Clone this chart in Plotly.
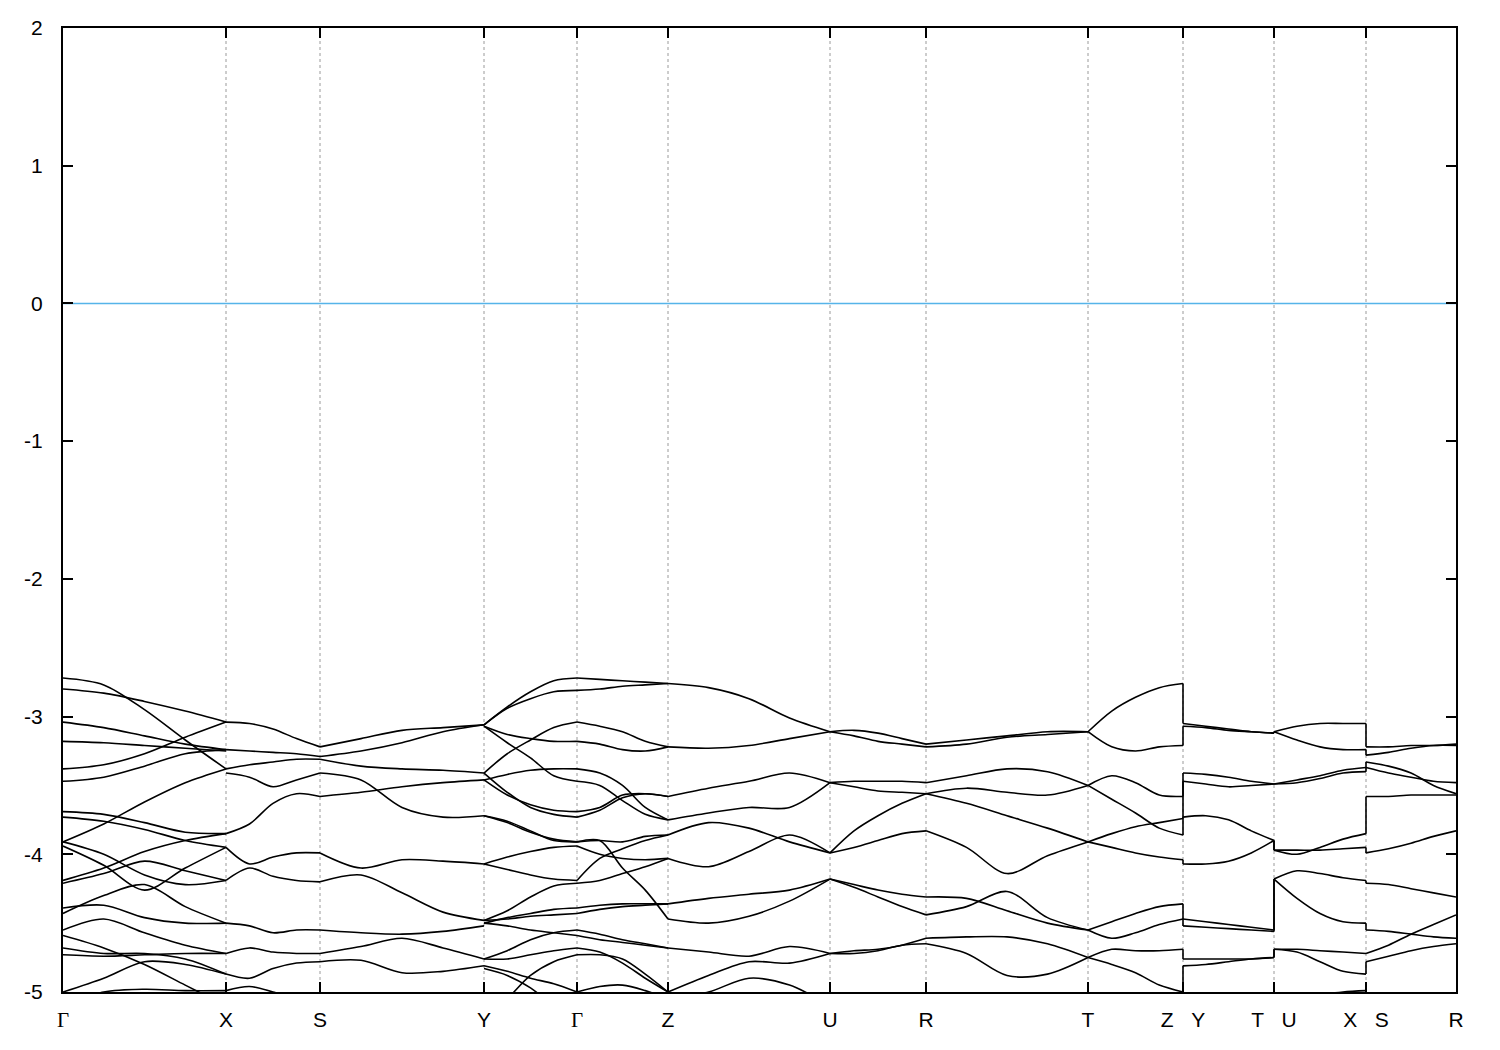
import numpy as np
import plotly.graph_objects as go

# ---------------- high-symmetry path (k positions, arbitrary units) ----------------
node_k = [0, 163, 257, 421, 514, 605, 767, 863, 1025, 1120, 1211, 1303, 1393]
node_labels = ["Γ", "X", "S", "Y", "Γ", "Z", "U", "R", "T", "Z   Y", "T   U", "X   S", "R"]

# ---------------- band energies (eV), 5 samples per segment ----------------
GX = [
    [-2.72, -2.77, -2.95, -3.17, -3.38],
    [-2.80, -2.83, -2.89, -2.96, -3.04],
    [-3.04, -3.08, -3.14, -3.20, -3.24],
    [-3.18, -3.19, -3.21, -3.23, -3.25],
    [-3.38, -3.35, -3.27, -3.15, -3.04],
    [-3.47, -3.44, -3.36, -3.27, -3.24],
    [-3.91, -3.78, -3.62, -3.48, -3.38],
    [-3.69, -3.71, -3.77, -3.84, -3.85],
    [-3.73, -3.76, -3.82, -3.90, -3.95],
    [-3.91, -4.00, -4.15, -4.22, -4.19],
    [-3.94, -4.08, -4.26, -4.10, -3.95],
    [-4.19, -4.10, -3.98, -3.90, -3.85],
    [-4.21, -4.14, -4.05, -4.12, -4.19],
    [-4.39, -4.37, -4.46, -4.50, -4.50],
    [-4.43, -4.30, -4.22, -4.38, -4.50],
    [-4.55, -4.47, -4.57, -4.66, -4.72],
    [-4.59, -4.68, -4.80, -4.95, -5.10],
    [-4.68, -4.72, -4.72, -4.76, -4.87],
    [-4.73, -4.74, -4.73, -4.72, -4.72],
    [-5.00, -4.90, -4.78, -4.80, -4.87],
    [-5.10, -5.00, -4.98, -4.99, -4.99],
]
XS = [
    [-3.04, -3.05, -3.09, -3.16, -3.22],
    [-3.24, -3.25, -3.26, -3.27, -3.29],
    [-3.38, -3.35, -3.33, -3.31, -3.31],
    [-3.41, -3.44, -3.51, -3.46, -3.41],
    [-3.85, -3.78, -3.63, -3.56, -3.58],
    [-3.95, -4.07, -4.02, -3.99, -3.99],
    [-4.19, -4.10, -4.16, -4.19, -4.20],
    [-4.50, -4.52, -4.57, -4.55, -4.55],
    [-4.72, -4.68, -4.71, -4.72, -4.72],
    [-4.87, -4.90, -4.83, -4.79, -4.78],
    [-4.99, -4.96, -5.00, -5.05, -5.10],
]
SY = [
    [-3.22, -3.16, -3.10, -3.08, -3.06],
    [-3.29, -3.25, -3.19, -3.11, -3.06],
    [-3.31, -3.36, -3.38, -3.39, -3.41],
    [-3.41, -3.46, -3.66, -3.73, -3.72],
    [-3.58, -3.55, -3.51, -3.48, -3.46],
    [-3.99, -4.10, -4.04, -4.05, -4.07],
    [-4.20, -4.15, -4.28, -4.42, -4.48],
    [-4.55, -4.57, -4.58, -4.56, -4.52],
    [-4.72, -4.67, -4.61, -4.68, -4.76],
    [-4.78, -4.77, -4.86, -4.85, -4.81],
]
YG = [
    [-3.06, -2.93, -2.82, -2.74, -2.72],
    [-3.06, -2.94, -2.87, -2.82, -2.81],
    [-3.07, -3.13, -3.16, -3.18, -3.18],
    [-3.07, -3.19, -3.30, -3.43, -3.47],
    [-3.41, -3.27, -3.17, -3.08, -3.04],
    [-3.46, -3.42, -3.39, -3.38, -3.38],
    [-3.46, -3.57, -3.64, -3.68, -3.69],
    [-3.41, -3.55, -3.66, -3.71, -3.73],
    [-3.72, -3.76, -3.83, -3.90, -3.91],
    [-3.72, -3.77, -3.84, -3.89, -3.91],
    [-4.07, -4.11, -4.15, -4.18, -4.19],
    [-4.07, -4.02, -3.98, -3.95, -3.94],
    [-4.48, -4.41, -4.31, -4.23, -4.21],
    [-4.50, -4.46, -4.43, -4.40, -4.39],
    [-4.50, -4.52, -4.55, -4.57, -4.59],
    [-4.48, -4.47, -4.45, -4.44, -4.43],
    [-4.76, -4.70, -4.62, -4.57, -4.55],
    [-4.76, -4.76, -4.73, -4.70, -4.68],
    [-4.81, -4.85, -4.90, -4.94, -5.00],
    [-4.83, -4.88, -4.97, -5.10, -5.20],
    [-5.20, -5.05, -4.88, -4.78, -4.73],
]
GZ = [
    [-2.72, -2.73, -2.74, -2.75, -2.76],
    [-2.81, -2.80, -2.78, -2.77, -2.76],
    [-3.04, -3.07, -3.11, -3.18, -3.22],
    [-3.18, -3.20, -3.24, -3.25, -3.22],
    [-3.38, -3.41, -3.50, -3.66, -3.75],
    [-3.47, -3.50, -3.61, -3.71, -3.75],
    [-3.73, -3.68, -3.59, -3.56, -3.58],
    [-3.69, -3.66, -3.57, -3.56, -3.58],
    [-3.91, -3.90, -3.91, -3.87, -3.86],
    [-3.91, -3.90, -4.10, -4.26, -4.47],
    [-4.19, -4.03, -3.96, -3.90, -3.86],
    [-4.21, -4.19, -4.14, -4.09, -4.03],
    [-3.94, -4.00, -4.03, -4.04, -4.03],
    [-4.39, -4.37, -4.36, -4.36, -4.36],
    [-4.43, -4.40, -4.38, -4.37, -4.36],
    [-4.55, -4.58, -4.62, -4.65, -4.68],
    [-4.59, -4.62, -4.64, -4.66, -4.68],
    [-4.68, -4.71, -4.79, -4.90, -5.00],
    [-4.73, -4.73, -4.76, -4.87, -5.00],
    [-5.00, -4.96, -4.95, -4.99, -5.05],
]
ZU = [
    [-2.76, -2.79, -2.87, -3.01, -3.11],
    [-3.22, -3.23, -3.21, -3.16, -3.11],
    [-3.58, -3.52, -3.47, -3.41, -3.48],
    [-3.75, -3.70, -3.66, -3.66, -3.48],
    [-3.86, -3.77, -3.81, -3.91, -3.99],
    [-4.03, -4.09, -3.98, -3.86, -3.99],
    [-4.36, -4.32, -4.29, -4.26, -4.18],
    [-4.47, -4.50, -4.45, -4.34, -4.18],
    [-4.68, -4.71, -4.74, -4.67, -4.72],
    [-5.00, -4.88, -4.78, -4.79, -4.72],
    [-5.05, -5.00, -4.90, -4.95, -5.10],
]
UR = [
    [-3.11, -3.10, -3.12, -3.16, -3.20],
    [-3.11, -3.14, -3.18, -3.20, -3.22],
    [-3.48, -3.47, -3.47, -3.47, -3.48],
    [-3.48, -3.51, -3.54, -3.55, -3.56],
    [-3.99, -3.83, -3.72, -3.63, -3.56],
    [-3.99, -3.95, -3.90, -3.85, -3.83],
    [-4.18, -4.24, -4.31, -4.38, -4.44],
    [-4.18, -4.22, -4.26, -4.29, -4.31],
    [-4.72, -4.70, -4.69, -4.66, -4.61],
    [-4.72, -4.72, -4.70, -4.66, -4.65],
]
RT = [
    [-3.20, -3.17, -3.14, -3.11, -3.11],
    [-3.22, -3.20, -3.15, -3.13, -3.11],
    [-3.48, -3.43, -3.38, -3.40, -3.50],
    [-3.56, -3.52, -3.55, -3.57, -3.50],
    [-3.56, -3.63, -3.72, -3.81, -3.91],
    [-3.83, -3.95, -4.14, -4.01, -3.91],
    [-4.31, -4.32, -4.41, -4.50, -4.55],
    [-4.44, -4.38, -4.27, -4.46, -4.55],
    [-4.61, -4.60, -4.60, -4.65, -4.75],
    [-4.65, -4.72, -4.88, -4.87, -4.75],
]
TZ = [
    [-3.11, -2.96, -2.86, -2.79, -2.76],
    [-3.11, -3.22, -3.25, -3.22, -3.21],
    [-3.50, -3.43, -3.48, -3.57, -3.58],
    [-3.50, -3.60, -3.70, -3.81, -3.86],
    [-3.91, -3.85, -3.80, -3.77, -3.74],
    [-3.91, -3.95, -3.99, -4.02, -4.04],
    [-4.55, -4.49, -4.43, -4.38, -4.36],
    [-4.55, -4.61, -4.57, -4.51, -4.47],
    [-4.75, -4.69, -4.70, -4.70, -4.69],
    [-4.75, -4.80, -4.86, -4.95, -5.00],
    [-5.30, -5.30, -5.30, -5.30, -5.30],
]
YT = [
    [-3.05, -3.07, -3.09, -3.11, -3.12],
    [-3.07, -3.08, -3.10, -3.11, -3.12],
    [-3.41, -3.42, -3.44, -3.47, -3.49],
    [-3.47, -3.49, -3.51, -3.50, -3.49],
    [-3.73, -3.72, -3.75, -3.83, -3.90],
    [-4.07, -4.07, -4.05, -3.99, -3.90],
    [-4.47, -4.49, -4.51, -4.53, -4.55],
    [-4.52, -4.53, -4.54, -4.55, -4.56],
    [-4.76, -4.76, -4.76, -4.76, -4.75],
    [-4.81, -4.80, -4.78, -4.76, -4.75],
    [-5.20, -5.20, -5.20, -5.20, -5.20],
]
UX = [
    [-3.11, -3.07, -3.05, -3.05, -3.05],
    [-3.11, -3.17, -3.22, -3.24, -3.24],
    [-3.49, -3.46, -3.43, -3.39, -3.37],
    [-3.49, -3.48, -3.45, -3.41, -3.40],
    [-3.97, -3.97, -3.97, -3.96, -3.95],
    [-3.97, -4.00, -3.95, -3.89, -3.85],
    [-4.18, -4.12, -4.14, -4.17, -4.19],
    [-4.18, -4.32, -4.43, -4.49, -4.50],
    [-4.69, -4.69, -4.70, -4.71, -4.72],
    [-4.69, -4.71, -4.78, -4.85, -4.87],
    [-5.10, -5.05, -5.02, -5.00, -4.99],
]
SR = [
    [-3.22, -3.22, -3.21, -3.21, -3.20],
    [-3.28, -3.26, -3.23, -3.21, -3.21],
    [-3.33, -3.36, -3.41, -3.50, -3.56],
    [-3.37, -3.41, -3.44, -3.47, -3.48],
    [-3.58, -3.58, -3.57, -3.57, -3.57],
    [-3.99, -3.96, -3.92, -3.87, -3.83],
    [-4.21, -4.22, -4.25, -4.28, -4.31],
    [-4.55, -4.56, -4.58, -4.60, -4.61],
    [-4.72, -4.66, -4.58, -4.51, -4.44],
    [-4.78, -4.74, -4.70, -4.67, -4.65],
    [-5.05, -5.05, -5.05, -5.05, -5.05],
]

# segment -> (start node, end node, bands)
segments = [
    (0, 1, GX), (1, 2, XS), (2, 3, SY), (3, 4, YG), (4, 5, GZ), (5, 6, ZU),
    (6, 7, UR), (7, 8, RT), (8, 9, TZ), (9, 10, YT), (10, 11, UX), (11, 12, SR),
]
jump_nodes = [9, 10, 11]  # path discontinuities (Z|Y, T|U, X|S)

fermi_level = 0.0
y_ticks = [-5, -4, -3, -2, -1, 0, 1, 2]

fig = go.Figure()

# vertical dashed lines at high-symmetry points
for k in node_k[1:-1]:
    fig.add_shape(type="line", x0=k, x1=k, y0=-5, y1=2, xref="x", yref="y",
                  line=dict(color="#9a9a9a", width=1, dash="3px,3px"), layer="below")

# Fermi level
fig.add_trace(go.Scatter(x=[node_k[0], node_k[-1]], y=[fermi_level, fermi_level],
                         mode="lines", line=dict(color="#56B4E9", width=1.5),
                         hoverinfo="skip", showlegend=False))

# bands
for (i0, i1, bands) in segments:
    ks = np.linspace(node_k[i0], node_k[i1], len(bands[0]))
    xs, ys = [], []
    for b in bands:
        xs += list(ks) + [None]
        ys += list(b) + [None]
    fig.add_trace(go.Scatter(x=xs, y=ys, mode="lines",
                             line=dict(color="black", width=1.6, shape="spline", smoothing=0.9),
                             connectgaps=False, hoverinfo="skip", showlegend=False))

# vertical connectors at discontinuities (bands paired by energy order)
seg_end = {i1: b for (i0, i1, b) in segments}
seg_start = {i0: b for (i0, i1, b) in segments}
for n in jump_nodes:
    before = sorted([b[-1] for b in seg_end[n]], reverse=True)
    after = sorted([b[0] for b in seg_start[n]], reverse=True)
    xs, ys = [], []
    for a, c in zip(before, after):
        xs += [node_k[n], node_k[n], None]
        ys += [a, c, None]
    fig.add_trace(go.Scatter(x=xs, y=ys, mode="lines", line=dict(color="black", width=1.6),
                             hoverinfo="skip", showlegend=False))

tick_text = []
for lab in node_labels:
    if lab == "Γ":
        tick_text.append('<span style="font-family:\'Liberation Serif\', serif">Γ</span>')
    else:
        tick_text.append(lab.replace(" ", "\u00a0"))

fig.update_layout(
    width=1500, height=1050,
    margin=dict(l=55, r=52, t=20, b=66, autoexpand=False),
    paper_bgcolor="white", plot_bgcolor="white",
    font=dict(family="Liberation Sans, Arial, sans-serif", size=21, color="black"),
    xaxis=dict(range=[node_k[0], node_k[-1]], tickvals=node_k, ticktext=tick_text,
               showgrid=False, zeroline=False, showline=True, linecolor="black", linewidth=2,
               mirror="allticks", ticks="inside", ticklen=10, tickcolor="black", tickwidth=1.5,
               tickfont=dict(size=21), ticklabelstandoff=8, automargin=False),
    yaxis=dict(range=[-5, 2], tickvals=y_ticks, ticktext=[str(v) for v in y_ticks],
               showgrid=False, zeroline=False, showline=True, linecolor="black", linewidth=2,
               mirror="allticks", ticks="inside", ticklen=10, tickcolor="black", tickwidth=1.5,
               tickfont=dict(size=21), ticklabelstandoff=14, automargin=False),
)

fig.write_html("out.html")
